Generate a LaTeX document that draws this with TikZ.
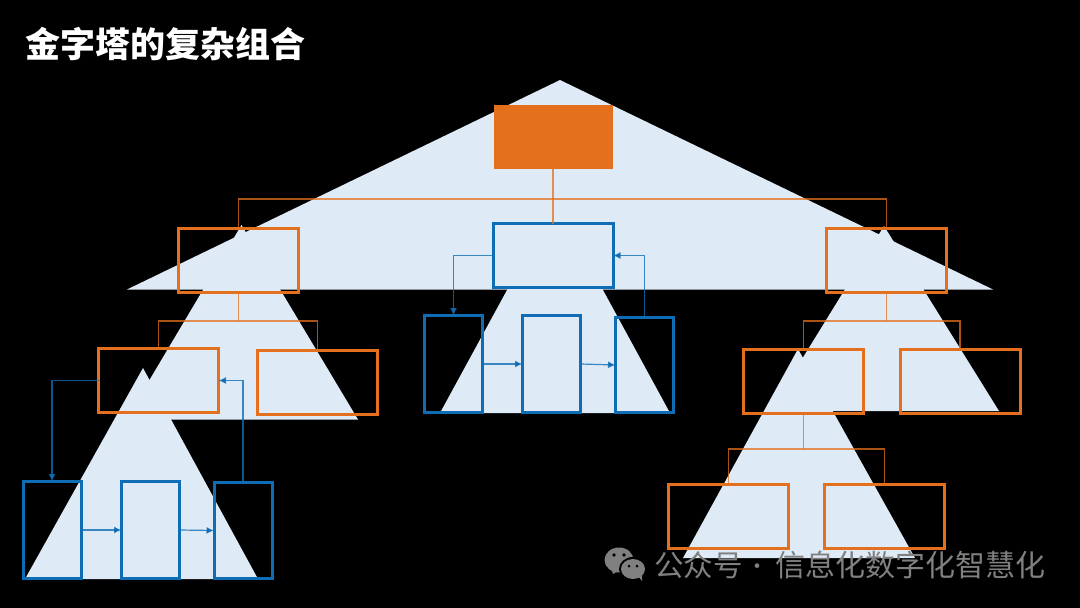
\documentclass[tikz,border=0pt]{standalone}
\usepackage{fontspec}
\newfontfamily\cjk{Noto Sans CJK SC}
\usetikzlibrary{arrows.meta}
\definecolor{pale}{HTML}{DEEAF6}
\definecolor{orng}{HTML}{E46F1C}
\definecolor{blu}{HTML}{0F6DB5}
\definecolor{wmgrey}{HTML}{808080}
\tikzset{
  tri/.style={fill=pale,draw=none},
  bx/.style={rectangle,draw,line width=3pt,inner sep=0pt,outer sep=0pt,minimum width=#1},
  obox/.style={bx=120pt,draw=orng,minimum height=64pt},
  bbox/.style={bx=58pt,draw=blu,minimum height=97pt},
  olink/.style={draw=orng,draw opacity=.75,line width=1.3pt},
  blink/.style={draw=blu,draw opacity=.8,line width=1.2pt,-{Latex[length=7.5pt,width=7pt]}},
}
\begin{document}
\begin{tikzpicture}[x=1pt,y=-1pt]
\fill[black] (0,0) rectangle (1080,608);
\useasboundingbox (0,0) rectangle (1080,608);
% pyramids
\fill[tri] (560,80) -- (993,289.5) -- (127,289.5) -- cycle;
\fill[tri] (241.5,225) -- (358,419.5) -- (126,419.5) -- cycle;
\fill[tri] (143,368) -- (258,579) -- (25,579) -- cycle;
\fill[tri] (555,202) -- (670,413) -- (440,413) -- cycle;
\fill[tri] (884,226) -- (999,411) -- (770,411) -- cycle;
\fill[tri] (798,349) -- (915,558) -- (683,558) -- cycle;
% boxes
\node[bx=119pt,draw=none,fill=orng,minimum height=64pt] (top) at (553,136.5) {};
\node[bx=120pt,draw=blu,minimum height=64pt] (ctr) at (553,255.5) {};
\node[bbox] (cl) at (453.5,364) {};
\node[bbox] (cm) at (551.5,364) {};
\node[bbox,minimum height=95pt] (cr) at (644.5,365) {};
\node[obox] (la) at (238.5,260.5) {};
\node[obox] (lb) at (158.5,380.5) {};
\node[obox] (lc) at (317.5,382) {};
\node[bbox] (bl) at (52,530) {};
\node[bbox] (bm) at (150.5,530) {};
\node[bbox,minimum height=96pt] (br) at (243,530.5) {};
\node[obox] (ra) at (886.5,260.5) {};
\node[obox] (rb) at (803.5,381) {};
\node[obox] (rc) at (960,381) {};
\node[obox] (rd) at (728.5,516.5) {};
\node[obox] (re) at (884.5,516.5) {};
% orange tree links
\coordinate (j1) at (553,199);
\coordinate (j2) at (238.5,321);
\coordinate (j3) at (886.5,321);
\coordinate (j4) at (803.5,449);
\draw[olink] (top.south) -- (ctr.north);
\draw[olink] (la.north) |- (j1) -| (ra.north);
\draw[olink] (la.south) -- (j2);
\draw[olink] (lb.north) |- (j2) -| (lc.north);
\draw[olink] (ra.south) -- (j3);
\draw[olink] (rb.north) |- (j3) -| (rc.north);
\draw[olink] (rb.south) -- (j4);
\draw[olink] (rd.north) |- (j4) -| (re.north);
% blue links
\draw[blink] (ctr.west) -| (cl.north);
\draw[blink] (cr.north) |- (ctr.east);
\draw[blink] (cl.east) -- (cm.west);
\draw[blink] (cm.east) -- (cr.west);
\draw[blink] (lb.west) -| (bl.north);
\draw[blink] (br.north) |- (lb.east);
\draw[blink] (bl.east) -- (bm.west);
\draw[blink] (bm.east) -- (br.west);
% title
\node[anchor=west,inner sep=0pt,text=white] (title) at (25,44) {\cjk\bfseries\fontsize{35pt}{35pt}\selectfont 金字塔的复杂组合};
% watermark
\fill[wmgrey] (619,560) ellipse [x radius=14.5,y radius=12.5];
\fill[wmgrey] (611,568) -- (613,574) -- (620,570) -- cycle;
\fill[black] (633,569) ellipse [x radius=14,y radius=12];
\fill[wmgrey] (633,569) ellipse [x radius=12,y radius=10];
\fill[wmgrey] (638,576) -- (642,581) -- (642,573) -- cycle;
\fill[black] (614,555) circle (1.8) (624,555) circle (1.8) (629,566) circle (1.5) (637,566) circle (1.5);
\node[anchor=west,inner sep=0pt,text=wmgrey] (wm1) at (654,565) {\cjk\fontsize{29.5pt}{29.5pt}\selectfont 公众号};
\node[anchor=center,inner sep=0pt,text=wmgrey] (wm2) at (757,569) {\cjk\fontsize{22pt}{22pt}\selectfont ·};
\node[anchor=east,inner sep=0pt,text=wmgrey] (wm3) at (1046,565) {\cjk\fontsize{30pt}{30pt}\selectfont 信息化数字化智慧化};
\end{tikzpicture}
\end{document}
